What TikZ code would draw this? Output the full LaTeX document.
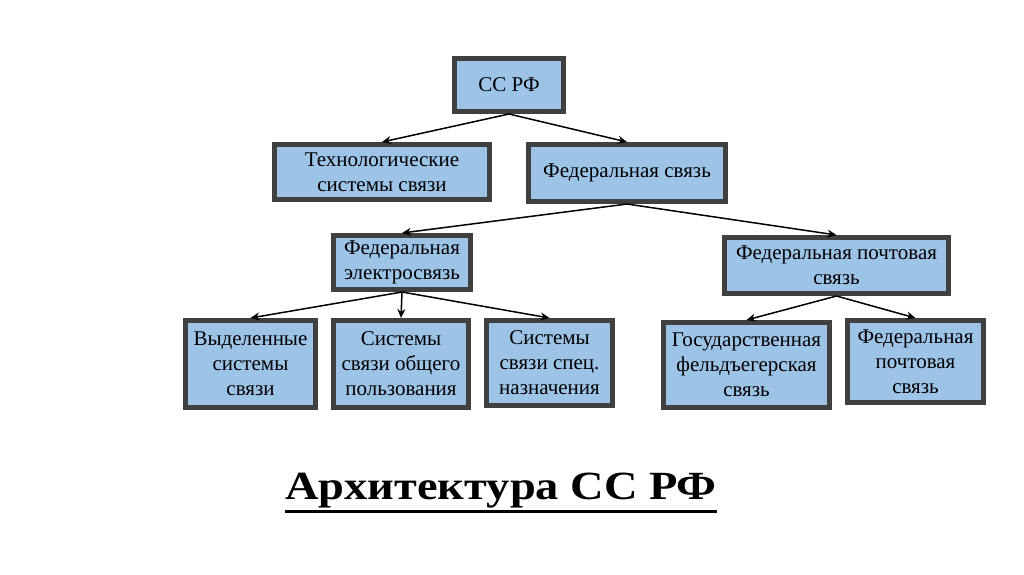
\documentclass[tikz,border=0pt]{standalone}
\usepackage{fontspec}
\setmainfont{Liberation Serif}
\newfontfamily\titlefont[FakeStretch=1.16]{Liberation Serif}
\usetikzlibrary{arrows.meta, positioning}
\definecolor{boxfill}{RGB}{157,195,230}
\definecolor{boxline}{RGB}{64,64,64}

\begin{document}
\begin{tikzpicture}[
  x=1pt, y=-1pt,
  box/.style={rectangle, draw=boxline, fill=boxfill, line width=5pt,
              inner sep=0pt, align=center,
              font=\fontsize{21}{25}\selectfont},
  arr/.style={-{Stealth[length=9pt, width=8pt]}, line width=1.5pt, black},
]
  \useasboundingbox (0,0) rectangle (1024,574);

  % top level
  \node[box, minimum width=109pt, minimum height=53pt] (ccrf) at (509,85) {СС РФ};
  \node[box, minimum width=215pt, minimum height=55pt] (tech) at (382,172) {Технологические\\системы связи};
  \node[box, minimum width=197pt, minimum height=57pt] (fed)  at (627,173) {Федеральная связь};

  % second level
  \node[box, minimum width=137pt, minimum height=54pt] (elec) at (402,262.5) {Федеральная\\электросвязь};
  \node[box, minimum width=224pt, minimum height=56pt] (post) at (836.5,265.5) {Федеральная почтовая\\связь};

  % leaves
  \node[box, minimum width=130pt, minimum height=87pt] (dedic)  at (250.5,364) {Выделенные\\системы\\связи};
  \node[box, minimum width=135pt, minimum height=87pt] (public) at (401,364) {Системы\\связи общего\\пользования};
  \node[box, minimum width=126pt, minimum height=85pt] (spec)   at (549.5,363) {Системы\\связи спец.\\назначения};
  \node[box, minimum width=166pt, minimum height=85pt] (courier) at (746.5,365) {Государственная\\фельдъегерская\\связь};
  \node[box, minimum width=136pt, minimum height=82pt] (postal) at (915.5,361.5) {Федеральная\\почтовая\\связь};

  \draw[arr] (ccrf.south) -- (tech.north);
  \draw[arr] (ccrf.south) -- (fed.north);
  \draw[arr] (fed.south) -- (elec.north);
  \draw[arr] (fed.south) -- (post.north);
  \draw[arr] (elec.south) -- (dedic.north);
  \draw[arr] (elec.south) -- (public.north);
  \draw[arr] (elec.south) -- (spec.north);
  \draw[arr] (post.south) -- (courier.north);
  \draw[arr] (post.south) -- (postal.north);

  % caption
  \node[anchor=base, inner sep=0pt, font=\titlefont\fontsize{40}{44}\selectfont\bfseries] (title) at (501,499) {Архитектура СС РФ};
  \draw[line width=2.8pt] ([yshift=-4pt]title.south west) -- ([yshift=-4pt]title.south east);
\end{tikzpicture}
\end{document}
